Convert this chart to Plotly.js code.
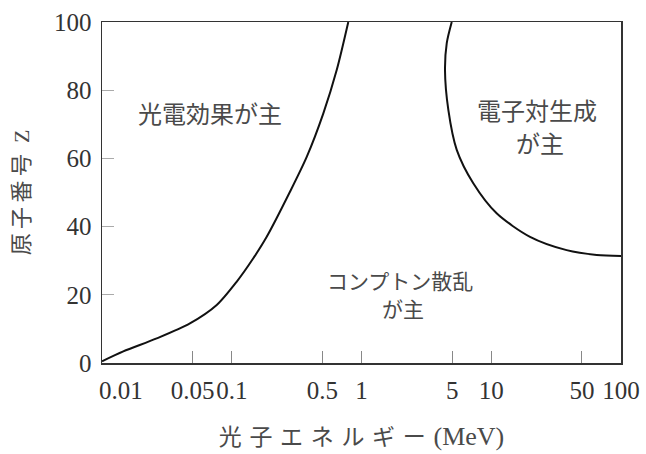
<!DOCTYPE html>
<html>
<head>
<meta charset="utf-8">
<script src="https://cdn.plot.ly/plotly-3.0.1.min.js"></script>
<style>html,body{margin:0;padding:0;background:#fff;}</style>
</head>
<body>
<div id="chart" style="width:646px;height:454px;"></div>
<script>
// Boundary: photoelectric / Compton
const photoE = [0.01, 0.0146, 0.0264, 0.0476, 0.0766, 0.109, 0.1466, 0.186, 0.281, 0.379, 0.508, 0.644, 0.791];
const photoZ = [0.5, 3.4, 7.2, 11.6, 17.0, 23.8, 30.7, 37.0, 50.2, 60.5, 73.2, 85.9, 100];
// Boundary: Compton / pair production
const pairE = [4.96, 4.54, 4.40, 4.67, 5.42, 7.27, 11.0, 19.9, 38.1, 65, 100];
const pairZ = [100, 93.8, 85.9, 74.2, 62.5, 52.7, 43.9, 37.0, 33.1, 31.7, 31.4];

const xTickVals = [0.01, 0.05, 0.1, 0.5, 1, 5, 10, 50, 100];
const xTickText = ['\u2003\u20020.01', '0.05', '0.1', '0.5', '1', '5', '10', '50', '100'];
const yTickVals = [0, 20, 40, 60, 80, 100];
const yTickText = ['0', '20', '40', '60', '80', '100'];

const regionLabels = ['光電効果が主', '電子対生成', 'が主', 'コンプトン散乱', 'が主'];
const xTitle = '光\u2004子\u2004エ\u2004ネ\u2004ル\u2004ギ\u2004ー\u2004<span style="font-size:26px">(MeV)</span>\u2003';
const yTitle = '\u2003\u2002原\u2009子\u2009番\u2009号\u2002Z';

const cjk = '"Noto Sans CJK JP", sans-serif';
const serifCjk = '"Liberation Serif", "Noto Sans CJK JP", serif';
const textColor = '#4a4a4a';

const traces = [
  {x: photoE, y: photoZ, mode: 'lines', line: {color: '#111', width: 2, shape: 'spline', smoothing: 0.8}, hoverinfo: 'skip'},
  {x: pairE, y: pairZ, mode: 'lines', line: {color: '#111', width: 2, shape: 'spline', smoothing: 0.8}, hoverinfo: 'skip'}
];

const annPos = [
  {x: 0.208, y: 0.736, size: 24},
  {x: 0.839, y: 0.742, size: 24},
  {x: 0.844, y: 0.647, size: 24},
  {x: 0.574, y: 0.243, size: 21},
  {x: 0.579, y: 0.160, size: 21}
];

const annotations = regionLabels.map((t, i) => ({
  text: t, xref: 'paper', yref: 'paper', x: annPos[i].x, y: annPos[i].y,
  xanchor: 'center', yanchor: 'middle', showarrow: false,
  font: {family: cjk, size: annPos[i].size, color: textColor}
}));

const layout = {
  width: 646, height: 454,
  margin: {l: 102, r: 25, t: 22, b: 91},
  paper_bgcolor: '#fff', plot_bgcolor: '#fff',
  showlegend: false,
  xaxis: {
    type: 'log', range: [-2, 2],
    tickmode: 'array', tickvals: xTickVals, ticktext: xTickText,
    tickangle: 0, ticklabelstandoff: 4,
    ticks: 'inside', ticklen: 12, tickwidth: 1, tickcolor: '#888',
    showline: true, linecolor: '#333', linewidth: 1.5, mirror: true,
    showgrid: false, zeroline: false,
    tickfont: {family: serifCjk, size: 25, color: '#333'},
    title: {text: xTitle, font: {family: serifCjk, size: 23, color: textColor}, standoff: 26}
  },
  yaxis: {
    range: [0, 100],
    tickmode: 'array', tickvals: yTickVals, ticktext: yTickText,
    ticks: 'inside', ticklen: 12, tickwidth: 1, tickcolor: '#aaa',
    showline: true, linecolor: '#333', linewidth: 1.5, mirror: true,
    showgrid: false, zeroline: false, ticklabelstandoff: 4,
    tickfont: {family: serifCjk, size: 25, color: '#333'},
    title: {text: yTitle, font: {family: serifCjk, size: 22, color: textColor}, standoff: 18}
  },
  annotations: annotations
};

Plotly.newPlot('chart', traces, layout, {staticPlot: true, displayModeBar: false});
</script>
</body>
</html>
